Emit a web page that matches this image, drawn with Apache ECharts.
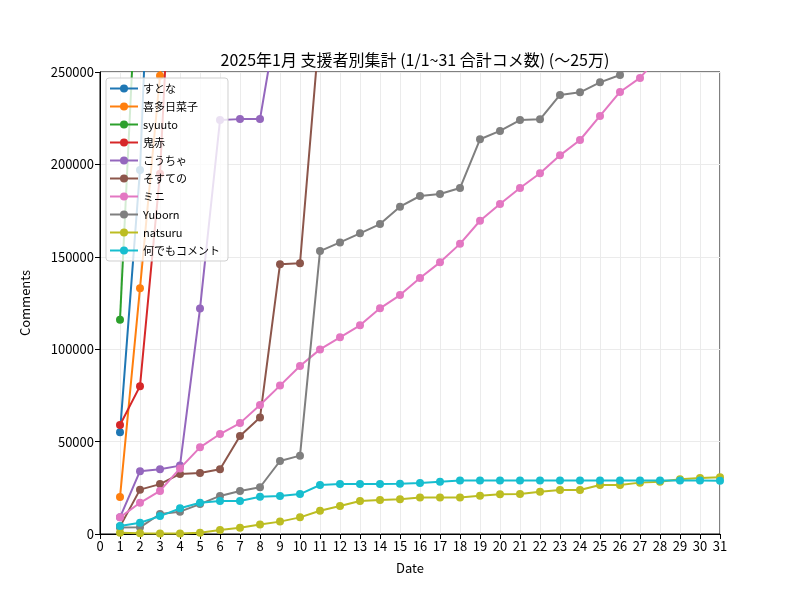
<!DOCTYPE html>
<html>
<head>
<meta charset="utf-8">
<script src="https://cdn.jsdelivr.net/npm/echarts@6/dist/echarts.min.js"></script>
<style>
  body { margin: 0; }
  #main { width: 800px; height: 600px; }
</style>
</head>
<body>
<div id="main"></div>
<script>
var names = ["すとな", "喜多日菜子", "syuuto", "鬼赤", "こうちゃ", "そすての", "ミニ", "Yuborn", "natsuru", "何でもコメント"];
var colors = ["#1f77b4", "#ff7f0e", "#2ca02c", "#d62728", "#9467bd", "#8c564b", "#e377c2", "#7f7f7f", "#bcbd22", "#17becf"];

// cumulative comments per day (index 0 = 1/1); later points are above the 250000 cap
var suto = [55000, 197000, 462000];
var kita = [20000, 133000, 248000, 420000];
var syuuto = [116000, 340000];
var oniaka = [59000, 80000, 195000, 415000];
var kouchya = [9000, 34000, 35000, 37000, 122000, 224000, 224500, 224500, 288000];
var sosuteno = [4000, 24000, 27000, 32500, 33000, 35000, 53000, 63000, 146000, 146500, 276000];
var mini = [9000, 16900, 23300, 35500, 46900, 54100, 60000, 69800, 80300, 90900, 99900, 106400, 112900, 122100,
  129300, 138500, 147000, 157000, 169500, 178600, 187200, 195200, 204900, 213200, 226200, 239200, 246800, 259000];
var yuborn = [3500, 3600, 10800, 12100, 16200, 20600, 23300, 25300, 39500, 42400, 153100, 157800, 162700, 167700,
  177100, 182900, 184000, 187200, 213600, 218100, 224000, 224400, 237600, 239000, 244400, 248400, 262000];
var natsuru = [700, 400, 300, 300, 700, 2200, 3400, 5200, 6700, 9000, 12600, 15200, 17900, 18400, 18800, 19800,
  19800, 19800, 20700, 21500, 21600, 22900, 23800, 23800, 26500, 26500, 27800, 28300, 29600, 30300, 30700];
var nandemo = [4300, 6100, 9700, 13900, 16900, 17900, 17900, 20200, 20600, 21600, 26500, 27000, 27000, 27000,
  27200, 27600, 28300, 28900, 28900, 28900, 28900, 28900, 28900, 28900, 28900, 28900, 28900, 28900, 28900, 28900, 28800];

var allData = [suto, kita, syuuto, oniaka, kouchya, sosuteno, mini, yuborn, natsuru, nandemo];

var font = "Noto Sans CJK JP";
var myChart = echarts.init(document.getElementById("main"));

var series = [];
for (var i = 0; i < names.length; i++) {
  var pts = [];
  for (var d = 0; d < allData[i].length; d++) {
    pts.push([d + 1, allData[i][d]]);
  }
  series.push({
    name: names[i],
    type: "line",
    data: pts,
    symbol: "circle",
    symbolSize: 8,
    clip: true,
    lineStyle: { width: 2, color: colors[i] },
    itemStyle: { color: colors[i] },
    emphasis: { disabled: true },
    z: 2 + i * 0.01
  });
}

var option = {
  animation: false,
  backgroundColor: "#fff",
  textStyle: { fontFamily: font },
  title: {
    text: "2025年1月 支援者別集計 (1/1~31 合計コメ数) (〜25万)",
    left: 410,
    textAlign: "center",
    top: 47,
    textStyle: { fontFamily: font, fontSize: 16, fontWeight: "normal", color: "#000" }
  },
  legend: {
    orient: "vertical",
    left: 106,
    top: 78,
    padding: [5, 8, 5, 3],
    itemWidth: 28,
    itemHeight: 10,
    itemGap: 7,
    borderColor: "#d0d0d0",
    borderWidth: 1,
    borderRadius: 3,
    backgroundColor: "rgba(255,255,255,0.8)",
    textStyle: { fontFamily: font, fontSize: 11, color: "#000" },
    data: names
  },
  grid: {
    left: 100, right: 80, top: 72, bottom: 66,
    show: true, borderColor: "#000", borderWidth: 1,
    containLabel: false
  },
  xAxis: {
    type: "value",
    min: 0, max: 31, interval: 1,
    name: "Date",
    nameLocation: "middle",
    nameGap: 28,
    nameTextStyle: { fontFamily: font, fontSize: 13, color: "#000" },
    axisLine: { show: true, lineStyle: { color: "#000" } },
    axisTick: { show: true, length: 5, lineStyle: { color: "#000" } },
    axisLabel: { fontFamily: font, fontSize: 13, color: "#000", margin: 6 },
    splitLine: { show: true, lineStyle: { color: "#ebebeb", width: 1 } }
  },
  yAxis: {
    type: "value",
    min: 0, max: 250000, interval: 50000,
    name: "Comments",
    nameLocation: "middle",
    nameGap: 68,
    nameTextStyle: { fontFamily: font, fontSize: 13, color: "#000" },
    axisLine: { show: true, lineStyle: { color: "#000" } },
    axisTick: { show: true, length: 5, lineStyle: { color: "#000" } },
    axisLabel: {
      fontFamily: font, fontSize: 13, color: "#000", margin: 6,
      formatter: function (v) { return String(v); }
    },
    splitLine: { show: true, lineStyle: { color: "#ebebeb", width: 1 } }
  },
  series: series
};

option && myChart.setOption(option);
</script>
</body>
</html>
